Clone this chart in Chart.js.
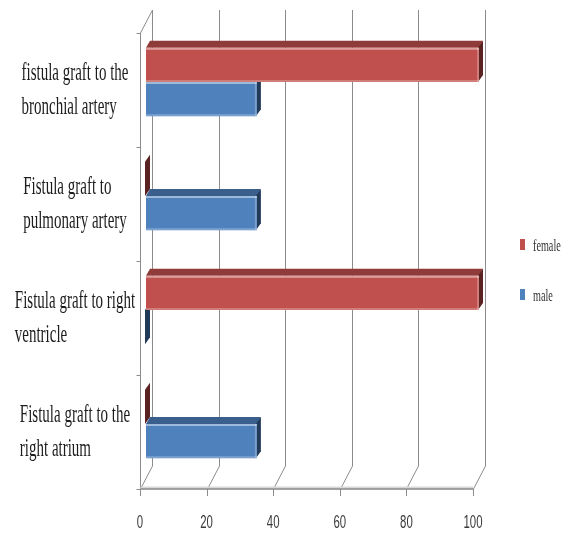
<!DOCTYPE html>
<html>
<head>
<meta charset="utf-8">
<title>Fistula graft by sex</title>
<script src="https://cdn.jsdelivr.net/npm/chart.js@4.4.1/dist/chart.umd.min.js"></script>
<style>
  html, body { margin: 0; padding: 0; background: #fff; }
</style>
</head>
<body>
<canvas id="graftChart" width="568" height="535"></canvas>
<script>
// categories, top to bottom (each entry is the wrapped label lines)
const categories = [
  ['fistula graft to the', 'bronchial artery'],
  ['Fistula graft to', 'pulmonary artery'],
  ['Fistula graft to right', 'ventricle'],
  ['Fistula graft to the', 'right atrium']
];
const femaleValues = [100, 0, 100, 0];
const maleValues = [33.3, 33.3, 0, 33.3];
const xTickValues = [0, 20, 40, 60, 80, 100];

// narrow text look: every label is squeezed horizontally
const SQUEEZE = 0.6;
// offsets of the front and back planes of the box from the bar plane
const FRONT = { dx: -6, dy: 8 };
const BACK = { dx: 6, dy: -15 };
// depth of each bar's top face / end cap
const BAR_DEPTH = { dx: 4, dy: -7 };

const shades = {
  female: { face: '#c0504d', top: '#8e3b39', cap: '#5a2220' },
  male: { face: '#4f81bd', top: '#3a5f8c', cap: '#213a5a' }
};

function squeezedText(ctx, text, x, y, font, color, align) {
  ctx.save();
  ctx.font = font;
  ctx.fillStyle = color;
  ctx.textBaseline = 'middle';
  ctx.textAlign = align || 'left';
  ctx.translate(x, y);
  ctx.scale(SQUEEZE, 1);
  ctx.fillText(text, 0, 0);
  ctx.restore();
}

function poly(ctx, pts, fill) {
  ctx.beginPath();
  ctx.moveTo(pts[0][0], pts[0][1]);
  for (let i = 1; i < pts.length; i++) ctx.lineTo(pts[i][0], pts[i][1]);
  ctx.closePath();
  ctx.fillStyle = fill;
  ctx.fill();
}

const box3d = {
  id: 'box3d',
  beforeDatasetsDraw(chart) {
    const { ctx, chartArea: a, scales: { x } } = chart;
    const top = a.top, bottom = a.bottom;
    ctx.save();
    ctx.lineWidth = 1;
    ctx.strokeStyle = '#8c8c8c';

    // back wall gridlines running onto the floor
    xTickValues.forEach(v => {
      const px = Math.round(x.getPixelForValue(v)) + 0.5;
      ctx.beginPath();
      ctx.moveTo(px + BACK.dx, top + BACK.dy);
      ctx.lineTo(px + BACK.dx, bottom + BACK.dy);
      ctx.lineTo(px + FRONT.dx, bottom + FRONT.dy);
      ctx.stroke();
    });

    // left side wall
    const x0 = Math.round(x.getPixelForValue(0)) + 0.5;
    ctx.beginPath();
    ctx.moveTo(x0 + FRONT.dx, bottom + FRONT.dy);
    ctx.lineTo(x0 + FRONT.dx, top + FRONT.dy);
    ctx.lineTo(x0 + BACK.dx, top + BACK.dy);
    ctx.stroke();

    // category ticks on the wall
    const catH = (bottom - top) / categories.length;
    for (let i = 0; i <= categories.length; i++) {
      const py = Math.round(top + i * catH + FRONT.dy) + 0.5;
      ctx.beginPath();
      ctx.moveTo(x0 + FRONT.dx - 4, py);
      ctx.lineTo(x0 + FRONT.dx, py);
      ctx.stroke();
    }

    // floor front edge + value ticks
    const x100 = x.getPixelForValue(100);
    const fy = bottom + FRONT.dy;
    ctx.strokeStyle = '#d8d8d8';
    ctx.lineWidth = 3;
    ctx.beginPath();
    ctx.moveTo(x0 + FRONT.dx, fy - 1);
    ctx.lineTo(x100 + FRONT.dx, fy - 1);
    ctx.stroke();
    ctx.strokeStyle = '#8c8c8c';
    ctx.lineWidth = 1.5;
    ctx.beginPath();
    ctx.moveTo(x0 + FRONT.dx, fy);
    ctx.lineTo(x100 + FRONT.dx, fy);
    ctx.stroke();
    ctx.lineWidth = 1;
    xTickValues.forEach(v => {
      const px = Math.round(x.getPixelForValue(v) + FRONT.dx) + 0.5;
      ctx.beginPath();
      ctx.moveTo(px, fy);
      ctx.lineTo(px, fy + 7);
      ctx.stroke();
    });

    // top faces and end caps of the bars, drawn under the front faces
    chart.data.datasets.forEach((ds, di) => {
      const meta = chart.getDatasetMeta(di);
      const c = shades[ds.key];
      meta.data.forEach(el => {
        const p = el.getProps(['x', 'y', 'base', 'height'], true);
        const t = p.y - p.height / 2, b = p.y + p.height / 2;
        const d = BAR_DEPTH;
        poly(ctx, [[p.base, t], [p.x, t], [p.x + d.dx, t + d.dy], [p.base + d.dx, t + d.dy]], c.top);
        poly(ctx, [[p.x - 1, t], [p.x + d.dx, t + d.dy], [p.x + d.dx, b + d.dy], [p.x - 1, b]], c.cap);
      });
    });
    ctx.restore();
  },
  afterDatasetsDraw(chart) {
    const { ctx } = chart;
    ctx.save();
    // light edges on the front faces
    chart.data.datasets.forEach((ds, di) => {
      chart.getDatasetMeta(di).data.forEach(el => {
        const p = el.getProps(['x', 'y', 'base', 'height'], true);
        if (p.x - p.base < 2) return;
        const t = p.y - p.height / 2, b = p.y + p.height / 2;
        ctx.fillStyle = 'rgba(255,255,255,0.45)';
        ctx.fillRect(p.base, t, p.x - p.base, 2);
        ctx.fillStyle = 'rgba(255,255,255,0.25)';
        ctx.fillRect(p.base, b - 2, p.x - p.base, 2);
        ctx.fillRect(p.x - 2, t, 2, p.height);
      });
    });
    ctx.restore();
  },
  afterDraw(chart) {
    const { ctx, chartArea: a, scales: { x, y } } = chart;
    ctx.save();

    // category labels: block centred, lines left aligned
    const labelFont = '25px "Liberation Serif", "Times New Roman", serif';
    ctx.font = labelFont;
    categories.forEach((lines, i) => {
      const w = Math.max(...lines.map(s => ctx.measureText(s).width)) * SQUEEZE;
      const left = 75 - w / 2;
      const cy = y.getPixelForValue(i) + 8;
      lines.forEach((s, j) => {
        squeezedText(ctx, s, left, cy + (j - (lines.length - 1) / 2) * 34, labelFont, '#1c1c1c', 'left');
      });
    });

    // value labels under the floor
    const tickFont = '19px "Liberation Sans", Arial, sans-serif';
    xTickValues.forEach(v => {
      squeezedText(ctx, String(v), x.getPixelForValue(v) + FRONT.dx, a.bottom + 42, tickFont, '#3a3a3a', 'center');
    });

    // legend
    const legendFont = '17px "Liberation Serif", "Times New Roman", serif';
    chart.data.datasets.forEach((ds, di) => {
      const ly = 245 + di * 50;
      ctx.fillStyle = ds.backgroundColor;
      ctx.fillRect(520, ly - 6, 5, 11);
      squeezedText(ctx, ds.label, 533, ly + 2, legendFont, '#333', 'left');
    });
    ctx.restore();
  }
};

new Chart(document.getElementById('graftChart'), {
  type: 'bar',
  data: {
    labels: categories,
    datasets: [
      { key: 'female', label: 'female', data: femaleValues, backgroundColor: shades.female.face },
      { key: 'male', label: 'male', data: maleValues, backgroundColor: shades.male.face }
    ]
  },
  options: {
    indexAxis: 'y',
    responsive: false,
    animation: false,
    layout: { padding: { left: 146, right: 89, top: 25, bottom: 54 } },
    datasets: { bar: { categoryPercentage: 0.6, barPercentage: 1, borderWidth: 0 } },
    scales: {
      x: { display: false, min: 0, max: 100, ticks: { stepSize: 20 } },
      y: { display: false }
    },
    plugins: {
      legend: { display: false },
      tooltip: { enabled: false }
    }
  },
  plugins: [box3d]
});
</script>
</body>
</html>
